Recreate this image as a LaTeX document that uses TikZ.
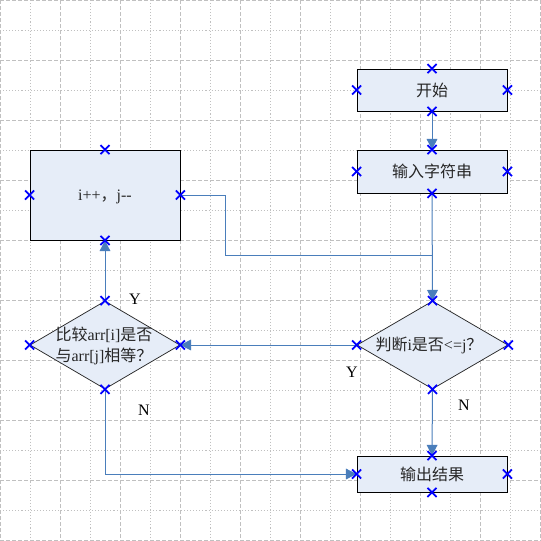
\documentclass[tikz,border=0pt]{standalone}
\usepackage{fontspec}
\setmainfont{Liberation Serif}
\newfontfamily\cjk{Noto Sans CJK SC}
\usetikzlibrary{arrows.meta,shapes.geometric,shapes.misc}
\definecolor{boxfill}{RGB}{230,237,248}
\definecolor{conncol}{RGB}{74,126,187}
\definecolor{gridcol}{RGB}{192,192,192}
\tikzset{
  box/.style={draw=black, line width=0.65pt, fill=boxfill, rectangle, inner sep=0pt, minimum width=112.5pt},
  dia/.style={draw=black!85, line width=0.55pt, fill=boxfill, diamond, inner sep=0pt, minimum width=112.5pt, minimum height=66pt},
  txt/.style={inner sep=0pt, font=\fontsize{12}{15.5}\selectfont, align=center, text=black!85},
  conn/.style={draw=conncol, line width=0.75pt, -{Triangle[length=8pt,width=8pt]}},
  plainline/.style={draw=conncol, line width=0.75pt},
  xmark/.style={shape=cross out, draw={rgb,255:red,0;green,0;blue,255}, line width=1.3pt, minimum size=5.5pt, inner sep=0pt},
  lbl/.style={inner sep=0pt, font=\fontsize{12}{14}\selectfont},
  majorgrid/.style={draw=gridcol, line width=0.6pt, dash pattern=on 3pt off 1.5pt},
  minorgrid/.style={draw=gridcol, line width=0.6pt, dash pattern=on 0.8pt off 1.5pt}
}
\begin{document}
\begin{tikzpicture}[x=0.75pt,y=-0.75pt]
\useasboundingbox (0,0) rectangle (541,540);
\fill[white] (0,0) rectangle (541,540);
% grid
\foreach \k in {0,60,...,540} {
  \draw[majorgrid] (\k,0) -- (\k,540);
  \draw[majorgrid] (0,\k) -- (541,\k);
}
\foreach \k in {30,90,...,510} {
  \draw[minorgrid] (\k,0) -- (\k,540);
  \draw[minorgrid] (0,\k) -- (541,\k);
}
% shapes
\node[box, minimum height=31.5pt] (start) at (432,90) {};
\node[txt] (startt) at (start.center) {\cjk 开始};
\node[box, minimum height=32.25pt] (input) at (432,171.5) {};
\node[txt] (inputt) at (input.center) {\cjk 输入字符串};
\node[box, minimum height=67.5pt] (incr) at (105,195) {};
\node[txt] (incrt) at (105,197) {i++{\cjk ，}j-\/-};
\node[dia] (cmp) at (105,345) {};
\node[txt] (cmpt) at (104,346) {{\cjk 比较}arr[i]{\cjk 是否}\\{\cjk 与}arr[j]{\cjk 相等？}};
\node[dia, minimum width=113.25pt] (chk) at (432.5,345) {};
\node[txt] (chkt) at (429,345) {{\cjk 判断}i{\cjk 是否}<=j{\cjk ？}};
\node[box, minimum height=27pt] (out) at (432,474) {};
\node[txt] (outt) at (out.center) {\cjk 输出结果};
% connectors
\coordinate (join) at (432,255);
\draw[conn] (start.south) -- (input.north);
\draw[conn] (input.south) -- (chk.north);
\draw[plainline] (incr.east) -- ++(45,0) |- (join);
\draw[conn] (chk.west) -- (cmp.east);
\draw[conn] (cmp.north) -- (incr.south);
\draw[conn] (cmp.south) |- (out.west);
\draw[conn] (chk.south) -- (out.north);
% labels
\node[lbl] (y1) at (135,299) {Y};
\node[lbl] (y2) at (352,372) {Y};
\node[lbl] (n1) at (144,410) {N};
\node[lbl] (n2) at (464,405) {N};
% connection point markers
\foreach \n in {start,input,incr,cmp,chk,out} {
  \foreach \a in {north,south,east,west} {
    \node[xmark] at (\n.\a) {};
  }
}
\end{tikzpicture}
\end{document}
